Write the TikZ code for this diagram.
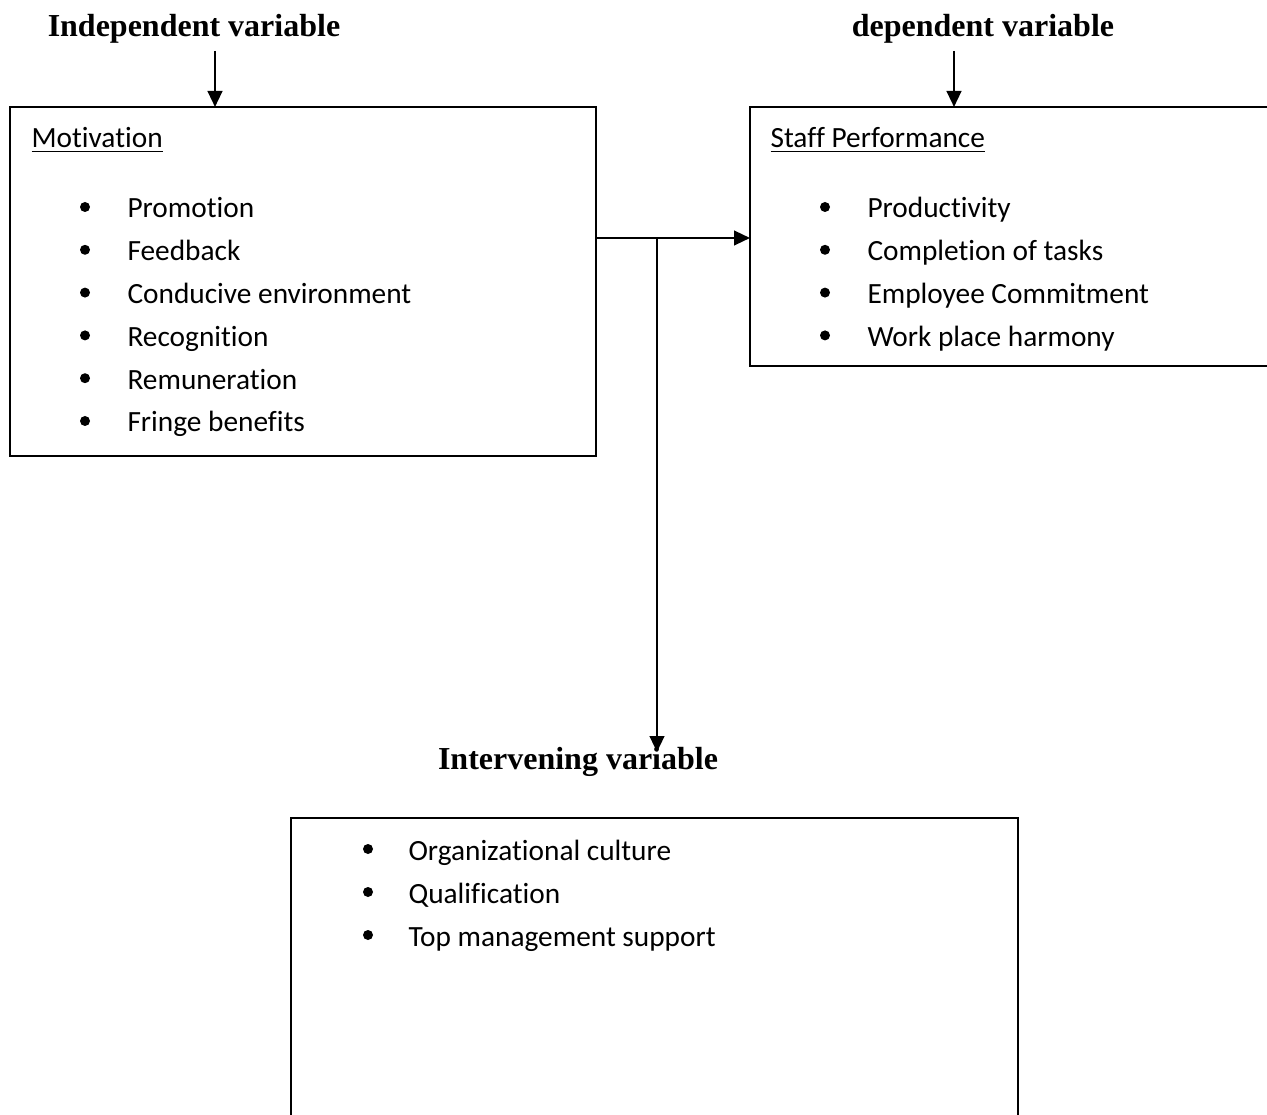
\documentclass[tikz,border=0pt]{standalone}
\usepackage{fontspec}
\setmainfont{Carlito}[Ligatures=NoCommon]
\newfontfamily\titlefont{Liberation Serif}
\usetikzlibrary{arrows.meta}
\tikzset{
  box/.style={draw=black,line width=0.85pt},
  conn/.style={draw=black,line width=0.85pt,-{Triangle[length=6pt,width=5.5pt]}},
  title/.style={font=\titlefont\bfseries\fontsize{12}{14}\selectfont,inner sep=0pt,anchor=base},
  item/.style={font=\fontsize{11}{13}\selectfont,inner sep=0pt,anchor=base west},
  bul/.style={fill=black,draw=none},
}
\begin{document}
\begin{tikzpicture}[x=0.375pt,y=-0.375pt]
\useasboundingbox (0,0) rectangle (1267,1115);
\begin{scope}
\clip (0,0) rectangle (1267,1115);
% titles
\node[title] (tind) at (194,37) {Independent variable};
\node[title] (tdep) at (983,37) {dependent variable};
\node[title] (tint) at (578,769) {Intervening variable};
% boxes
\coordinate (b1nw) at (10,107); \coordinate (b1se) at (596,456);
\draw[box] (b1nw) rectangle (b1se);
\coordinate (b2nw) at (750,107); \coordinate (b2se) at (1290,366);
\draw[box] (b2nw) rectangle (b2se);
\coordinate (b3nw) at (291,818); \coordinate (b3se) at (1018,1140);
\draw[box] (b3nw) rectangle (b3se);
% box 1 content
\node[item] (m) at (31,148) {\underline{Motivation}};
\foreach \t [count=\i from 0] in {Promotion,Feedback,Conducive environment,Recognition,Remuneration,Fringe benefits}{
  \fill[bul] (85,207+42.8*\i) circle (5);
  \node[item] (m\i) at (127,218+42.8*\i) {\t};
}
% box 2 content
\node[item] (s) at (770,148) {\underline{Staff Performance}};
\foreach \t [count=\i from 0] in {Productivity,Completion of tasks,Employee Commitment,Work place harmony}{
  \fill[bul] (825,207+42.8*\i) circle (5);
  \node[item] (s\i) at (867,218+42.8*\i) {\t};
}
% box 3 content
\foreach \t [count=\i from 0] in {Organizational culture,Qualification,Top management support}{
  \fill[bul] (368,849+43*\i) circle (5);
  \node[item] (o\i) at (408,860+43*\i) {\t};
}
% connectors
\coordinate (a1s) at (215,51); \coordinate (a1e) at (215,107);
\draw[conn] (a1s) -- (a1e);
\coordinate (a2s) at (954,51); \coordinate (a2e) at (954,107);
\draw[conn] (a2s) -- (a2e);
\coordinate (h1) at (596,238); \coordinate (h2) at (750,238);
\draw[conn] (h1) -- (h2);
\coordinate (v1) at (657,238); \coordinate (v2) at (657,752);
\draw[conn] (v1) -- (v2);
\end{scope}
\end{tikzpicture}
\end{document}
